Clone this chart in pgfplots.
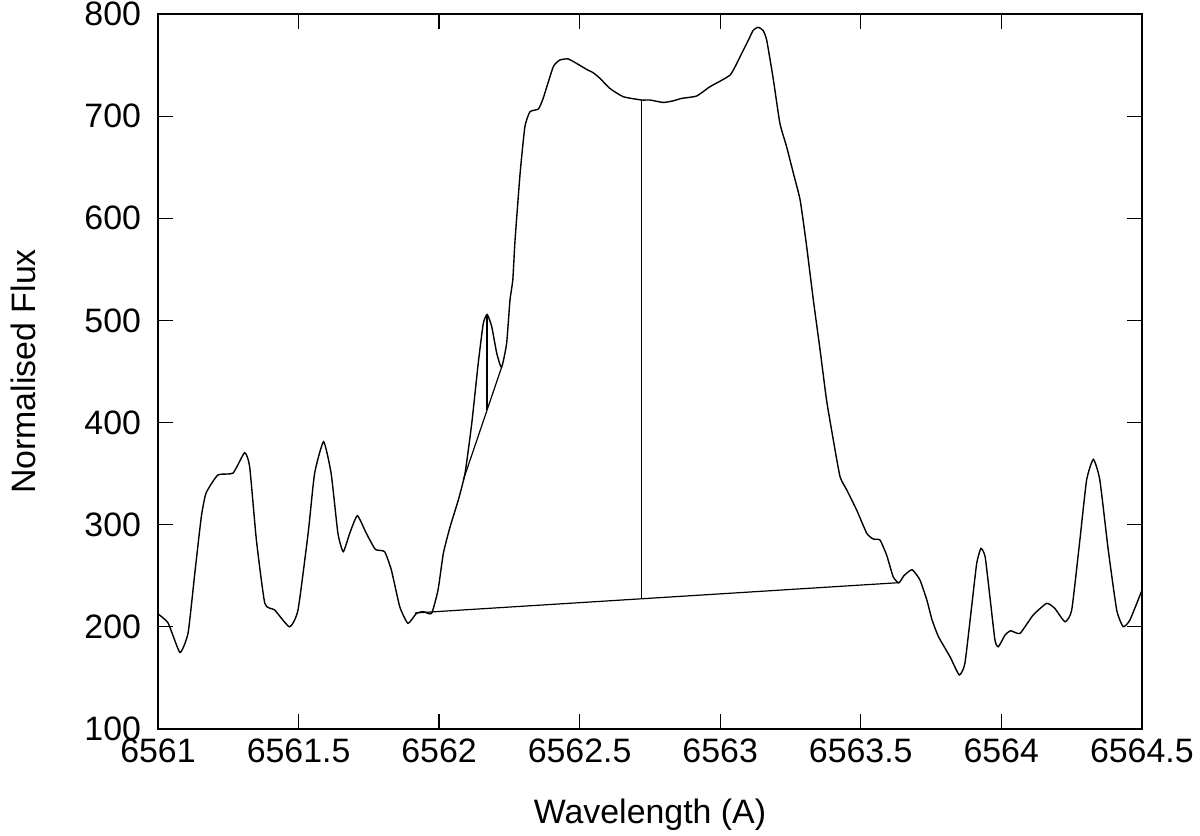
\documentclass[border=0pt]{standalone}
\usepackage{pgfplots}
\pgfplotsset{compat=1.18}
\usepackage{fontspec}
\setmainfont{Liberation Sans}
\begin{document}
\begin{tikzpicture}
\begin{axis}[
  scale only axis, width=492bp, height=357.5bp,
  xmin=6561, xmax=6564.5, ymin=100, ymax=800,
  xtick={6561,6561.5,...,6564.5}, ytick={100,200,...,800},
  /pgf/number format/1000 sep={}, /pgf/number format/assume math mode=true,
  xticklabel style={/pgf/number format/precision=1},
  tick align=inside, major tick length=7.5bp,
  axis line style={line width=1bp}, tick style={line width=0.6bp, black},
  ticklabel style={font=\fontsize{17}{19}\selectfont},
  label style={font=\fontsize{17}{19}\selectfont},
  yticklabel style={xshift=-5bp},
  xticklabel style={yshift=-1.5bp},
  xlabel={Wavelength (A)}, ylabel={Normalised Flux},
  xlabel style={yshift=-11bp}, ylabel style={yshift=17.5bp},
]
\addplot[black, line width=0.7bp, smooth, tension=0.3] coordinates {
(6561.000,212.6)(6561.036,203.8)(6561.078,175)(6561.107,194)(6561.131,252.7)(6561.154,307.6)(6561.171,331)(6561.213,348.7)(6561.267,350.6)(6561.308,370.5)(6561.326,356.8)(6561.350,285)(6561.380,223)(6561.415,216.5)(6561.468,200)(6561.498,216.5)(6561.534,291.6)(6561.557,350.2)(6561.589,381.3)(6561.616,350)(6561.640,291.6)(6561.659,273.6)(6561.682,291.6)(6561.709,308.8)(6561.741,291.6)(6561.773,275.9)(6561.806,273.6)(6561.830,255.7)(6561.860,219.7)(6561.889,203.4)(6561.919,213.2)(6561.944,214.9)(6561.973,213.2)(6561.996,236)(6562.015,272)(6562.039,298)(6562.068,324)(6562.092,350.2)(6562.116,399.2)(6562.139,458)(6562.157,497)(6562.171,505.8)(6562.187,493.9)(6562.205,467.8)(6562.222,454)(6562.240,477.5)(6562.252,520)(6562.262,539.6)(6562.270,578.7)(6562.288,644)(6562.305,689.6)(6562.323,704.3)(6562.353,707)(6562.370,717.4)(6562.406,748.4)(6562.430,755)(6562.459,756)(6562.489,751.6)(6562.525,745.7)(6562.548,742.5)(6562.572,737)(6562.608,727)(6562.655,719)(6562.720,715.8)(6562.750,715.8)(6562.797,713.4)(6562.833,715)(6562.863,717.4)(6562.916,719.7)(6562.963,728.8)(6563.035,740.3)(6563.070,758)(6563.100,774.5)(6563.117,784)(6563.134,787)(6563.152,784)(6563.165,774.5)(6563.189,735.4)(6563.212,693)(6563.236,670)(6563.260,644)(6563.284,617.9)(6563.306,575)(6563.331,520)(6563.355,471)(6563.378,422)(6563.402,383)(6563.426,347)(6563.450,334)(6563.485,314.4)(6563.521,291.6)(6563.544,286)(6563.568,285)(6563.592,270)(6563.615,249)(6563.635,243)(6563.653,250)(6563.682,256)(6563.710,246)(6563.735,226)(6563.753,207)(6563.776,190.4)(6563.817,170.8)(6563.850,152.9)(6563.870,164.2)(6563.894,219.7)(6563.912,262.1)(6563.927,276.8)(6563.942,268.7)(6563.959,229.5)(6563.977,187)(6563.989,180.5)(6564.013,192)(6564.033,196.2)(6564.066,193.6)(6564.113,211.6)(6564.161,223)(6564.190,218)(6564.226,205)(6564.250,216.5)(6564.279,285)(6564.303,343.8)(6564.327,364)(6564.350,343.8)(6564.380,275.2)(6564.410,216.5)(6564.433,200.2)(6564.457,206.7)(6564.500,236)
};
\addplot[black, line width=0.6bp] coordinates {(6561.914,213.6)(6563.632,243.2)};
\addplot[black, line width=0.5bp] coordinates {(6562.718,227.5)(6562.718,715.8)};
\addplot[black, line width=0.6bp] coordinates {(6562.086,343.8)(6562.222,454)};
\addplot[black, line width=1.3bp] coordinates {(6562.170,412.3)(6562.170,505.8)};
\end{axis}
\pgfresetboundingbox
\path (-79bp,-53.5bp) rectangle (521bp,364.5bp);
\end{tikzpicture}
\end{document}
